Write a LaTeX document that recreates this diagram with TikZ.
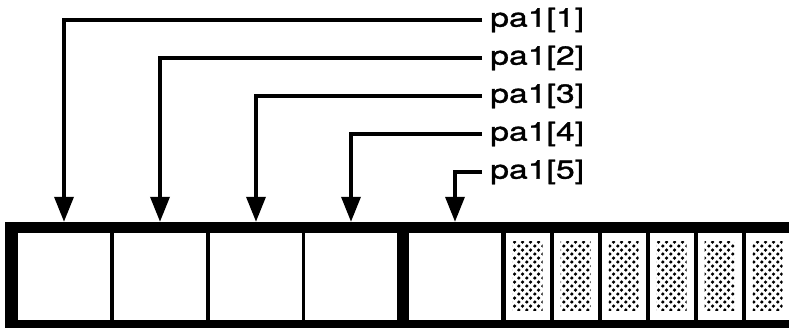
\documentclass[tikz,border=0pt]{standalone}
\usepackage{fontspec}
\newfontfamily\slotfont[FakeStretch=1.3,FakeBold=1.2]{TeX Gyre Heros}
\usetikzlibrary{arrows.meta,patterns.meta}

% dotted fill for the unused slots
\tikzdeclarepattern{
  name=slotdots,
  type=uncolored,
  bottom left={(0pt,0pt)}, top right={(7.6pt,8.4pt)}, tile size={(7.6pt,8.4pt)},
  code={
    \fill (1.9pt,2.1pt) circle (1.9pt);
    \fill (5.7pt,6.3pt) circle (1.9pt);
  }
}

\begin{document}
\begin{tikzpicture}[x=1pt,y=-1pt,
  cell/.style={rectangle,fill=white,inner sep=0pt,minimum width=92pt,minimum height=87pt},
  slot/.style={rectangle,fill=white,inner sep=0pt,minimum width=44pt,minimum height=87pt,
    path picture={\fill[pattern=slotdots] ([shift={(7pt,-9pt)}]path picture bounding box.north west) rectangle ([shift={(-7pt,9pt)}]path picture bounding box.south east);}},
  ptr/.style={line width=3.5pt,-{Triangle[length=25pt,width=19pt]}},
  lab/.style={anchor=west,inner xsep=8pt,inner ysep=0pt,font=\slotfont\fontsize{26}{26}\selectfont}]
\useasboundingbox (0,0) rectangle (789,328);

% black frame, the cells are cut out of it
\fill (5,222) rectangle (800,331);
\node[cell] (c1) at (64,276.5) {};
\node[cell] (c2) at (160,276.5) {};
\node[cell] (c3) at (256,276.5) {};
\node[cell] (c4) at (351,276.5) {};
\node[cell] (c5) at (455,276.5) {};
\foreach \i/\x in {1/527.5,2/575.5,3/623.5,4/671.5,5/719.5,6/767.5}
  \node[slot] (s\i) at (\x,276.5) {};

% pointers
\node[lab] (p1) at (482,20) {pa1[1]};
\node[lab] (p2) at (482,58) {pa1[2]};
\node[lab] (p3) at (482,96) {pa1[3]};
\node[lab] (p4) at (482,134) {pa1[4]};
\node[lab] (p5) at (482,172) {pa1[5]};

\draw[ptr] (p1.west) -| ([yshift=11pt]c1.north);
\draw[ptr] (p2.west) -| ([yshift=11pt]c2.north);
\draw[ptr] (p3.west) -| ([yshift=11pt]c3.north);
\draw[ptr] (p4.west) -| ([yshift=11pt]c4.north);
\draw[ptr] (p5.west) -| ([yshift=11pt]c5.north);
\end{tikzpicture}
\end{document}
